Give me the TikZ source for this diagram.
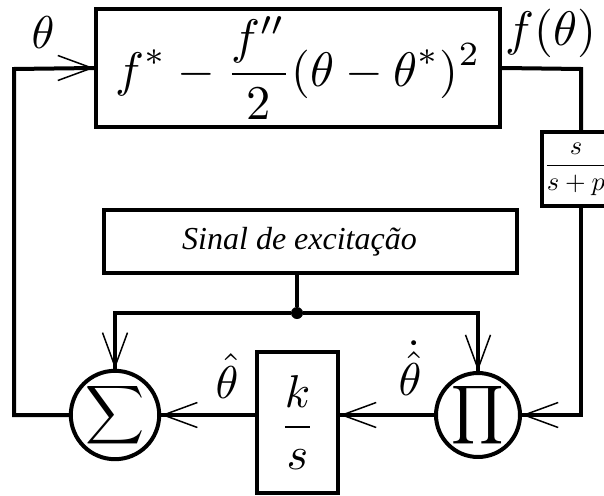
\documentclass[tikz,border=0pt]{standalone}
\usepackage{graphicx}
\usepackage{amsmath}
\usepackage{fontspec}
\newfontfamily\sigfont{Liberation Serif}
\newcommand{\mth}[2][4.6]{\scalebox{#1}{$\displaystyle #2$}}
\usetikzlibrary{arrows.meta,calc}
\tikzset{
  wire/.style={line width=4pt, line join=miter},
  blk/.style={draw, line width=4pt, rectangle, inner sep=0pt},
  junc/.style={circle, fill, inner sep=0pt, minimum size=12pt},
  opnode/.style={draw, line width=4pt, circle, inner sep=0pt, minimum size=80pt},
  lbl/.style={inner sep=0pt},
  barb/.style={line width=1.5pt, -{Straight Barb[length=34pt,width=25pt]}}
}
\begin{document}
\begin{tikzpicture}[x=1pt,y=-1pt]
\useasboundingbox (0,0) rectangle (604,495);
\clip (0,0) rectangle (604,495);
% blocks
\node[blk, minimum width=404pt, minimum height=118pt] (top) at (298,68)
  {\mth[4.85]{f^{*}-\frac{f''}{2}(\theta-\theta^{*})^{2}}};
\node[blk, minimum width=68pt, minimum height=74pt] (sp) at (576,169)
  {\mth[2.65]{\frac{s}{s+p}}};
\node[blk, minimum width=413pt, minimum height=63pt, font=\fontsize{32}{38}\sigfont\itshape] (sig) at (310.5,241.5)
  {Sinal de excitação\hspace*{22pt}};
\node[blk, minimum width=81pt, minimum height=141pt] (ks) at (297.5,422.5)
  {\mth{\frac{k}{s}}};
\node[opnode] (sum) at (115,415) {\mth[4.1]{\sum}};
\node[opnode] (pi) at (478,415) {\mth[4.1]{\prod}};
\node[junc] (jn) at (297,313) {};
% labels
\node[lbl] (lth) at (43,33) {\mth{\theta}};
\node[lbl] (lf) at (551,33) {\mth[4.85]{f(\theta)}};
\node[lbl] (lhat) at (227,376) {\mth{\hat{\theta}}};
\node[lbl] (ldot) at (410,368) {\mth{\dot{\hat{\theta}}}};
% corner coordinates
\coordinate (L) at (14,69);
\coordinate (R) at (581,69);
% wires
\draw[wire] (sum.west) -| (L) -- (top.west);
\draw[wire] (top.east) -- (R) -- (R |- sp.north);
\draw[wire] (R |- sp.south) |- (pi.east);
\draw[wire] (pi.west) -- (ks.east |- pi.west);
\draw[wire] (ks.west |- sum.east) -- (sum.east);
\draw[wire] (sig.south -| jn) -- (jn);
\draw[wire] (sum.north) |- (jn) -| (pi.north);
% arrow tips
\draw[barb] ($(top.west)+(-2,0)$) -- (top.west);
\draw[barb] ($(sum.east)+(2,0)$) -- (sum.east);
\draw[barb] ($(ks.east |- pi.west)+(2,0)$) -- (ks.east |- pi.west);
\draw[barb] ($(pi.east)+(2,0)$) -- (pi.east);
\draw[barb] ($(sum.north)+(0,-2)$) -- (sum.north);
\draw[barb] ($(pi.north)+(0,-2)$) -- (pi.north);
\end{tikzpicture}
\end{document}
